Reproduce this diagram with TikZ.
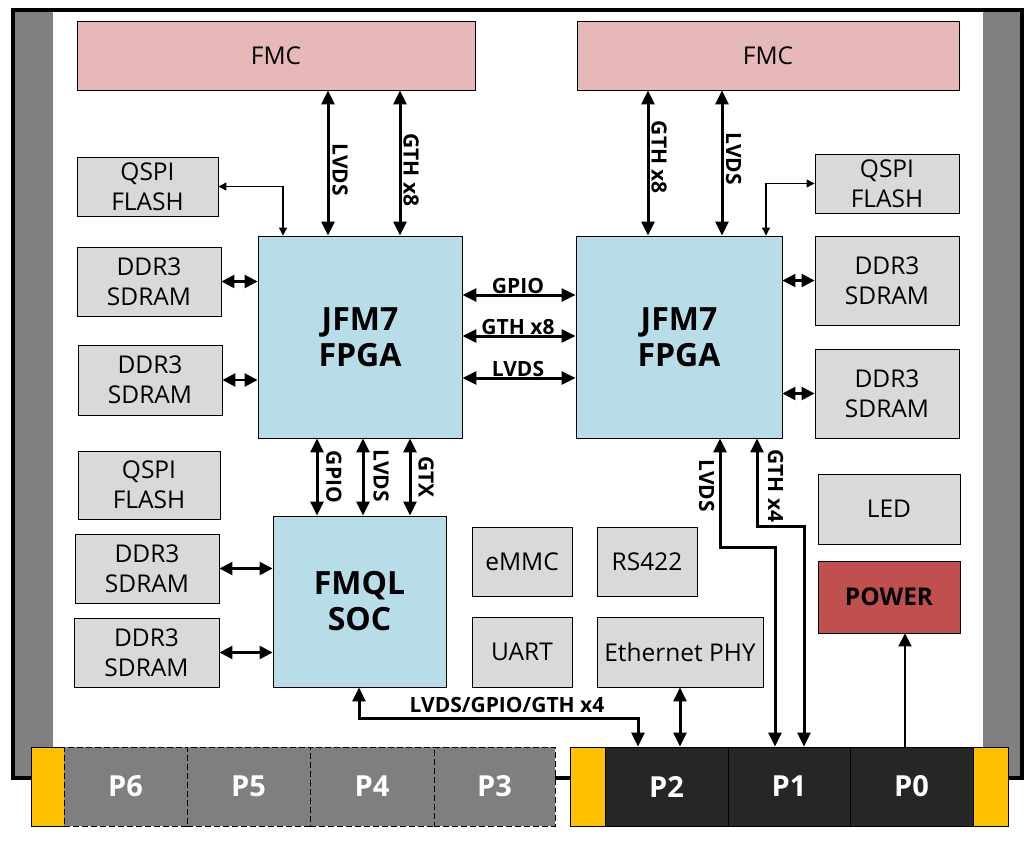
\documentclass[tikz,border=0pt]{standalone}
\usepackage{fontspec}
\setmainfont{Open Sans}
\usetikzlibrary{arrows.meta}
\definecolor{fmcpink}{HTML}{E6B8B7}
\definecolor{chipblue}{HTML}{B7DDE8}
\definecolor{boxgray}{HTML}{D9D9D9}
\definecolor{pwrred}{HTML}{C0504D}
\definecolor{framegray}{HTML}{808080}
\definecolor{conngray}{HTML}{7F7F7F}
\definecolor{conndark}{HTML}{262626}
\definecolor{connyel}{HTML}{FFC000}
\begin{document}
\begin{tikzpicture}[x=1pt,y=-1pt,
  box/.style={draw=black, line width=0.9pt, inner sep=0pt, align=center, font=\fontsize{24.5}{30}\selectfont},
  graybox/.style={box, fill=boxgray},
  fmcbox/.style={box, fill=fmcpink},
  chip/.style={box, fill=chipblue, font=\fontsize{32}{36}\selectfont\bfseries},
  pwrbox/.style={box, fill=pwrred, font=\fontsize{24.5}{30}\selectfont\bfseries},
  slotdash/.style={draw=black, line width=0.9pt, dash pattern=on 6pt off 3pt, fill=conngray, inner sep=0pt, minimum height=79pt, text=white, font=\fontsize{29}{32}\selectfont\bfseries},
  slot/.style={draw=black, line width=0.9pt, fill=conndark, inner sep=0pt, minimum height=79pt, text=white, font=\fontsize{29}{32}\selectfont\bfseries},
  yel/.style={draw=black, line width=0.9pt, fill=connyel, inner sep=0pt, minimum height=79pt},
  bus/.style={line width=3pt, >={Triangle[length=14pt,width=13pt]}, <->},
  shortbus/.style={line width=2.5pt, >={Triangle[length=13pt,width=13pt]}, <->},
  thinbus/.style={line width=1.2pt, >={Triangle[length=8pt,width=8pt]}, <->},
  pwrline/.style={line width=2pt, >={Triangle[length=13pt,width=13pt]}, ->},
  lab/.style={inner sep=0pt, font=\fontsize{21}{23}\selectfont\bfseries},
  vlab/.style={lab, rotate=-90}
]
\useasboundingbox (0,0) rectangle (1036,843);
% board frame
\fill[framegray] (13,10) rectangle (1022,778);
\fill[white] (53,10) rectangle (983,778);
\draw[line width=3.5pt] (13,10) rectangle (1022,778);

% FMC
\node[fmcbox, minimum width=398pt, minimum height=69pt] (fmcL) at (276,55.5) {FMC};
\node[fmcbox, minimum width=382pt, minimum height=69pt] (fmcR) at (768,55.5) {FMC};

% left column
\node[graybox, minimum width=141pt, minimum height=59pt] (qspiL1) at (147.5,186.5) {QSPI\\FLASH};
\node[graybox, minimum width=144pt, minimum height=69pt] (ddrL1) at (149,281.5) {DDR3\\SDRAM};
\node[graybox, minimum width=144pt, minimum height=70pt] (ddrL2) at (150,380) {DDR3\\SDRAM};
\node[graybox, minimum width=142pt, minimum height=68pt] (qspiL2) at (149,485) {QSPI\\FLASH};
\node[graybox, minimum width=144pt, minimum height=69pt] (ddrL3) at (147,568.5) {DDR3\\SDRAM};
\node[graybox, minimum width=145pt, minimum height=69pt] (ddrL4) at (146.5,652.5) {DDR3\\SDRAM};

% chips
\node[chip, minimum width=204pt, minimum height=202pt] (fpgaL) at (360,337) {JFM7\\FPGA};
\node[chip, minimum width=206pt, minimum height=202pt] (fpgaR) at (679,337) {JFM7\\FPGA};
\node[chip, minimum width=173pt, minimum height=171pt] (soc) at (359.5,601.5) {FMQL\\SOC};

% right column
\node[graybox, minimum width=144pt, minimum height=59pt] (qspiR) at (887,183.5) {QSPI\\FLASH};
\node[graybox, minimum width=144pt, minimum height=89pt] (ddrR1) at (887,280.5) {DDR3\\SDRAM};
\node[graybox, minimum width=144pt, minimum height=89pt] (ddrR2) at (887,393.5) {DDR3\\SDRAM};
\node[graybox, minimum width=142pt, minimum height=70pt] (led) at (889,509) {LED};
\node[pwrbox, minimum width=142pt, minimum height=72pt] (power) at (889,597) {POWER};

% peripherals
\node[graybox, minimum width=100pt, minimum height=69pt] (emmc) at (522,561.5) {eMMC};
\node[graybox, minimum width=100pt, minimum height=69pt] (rs422) at (647,561.5) {RS422};
\node[graybox, minimum width=100pt, minimum height=70pt] (uart) at (522,652) {UART};
\node[graybox, minimum width=166pt, minimum height=70pt] (eth) at (680,652) {Ethernet PHY};

% backplane connector
\node[yel, minimum width=33pt] (yl1) at (47.5,786.5) {};
\node[slotdash, minimum width=123pt] (p6) at (125.5,786.5) {P6};
\node[slotdash, minimum width=123pt] (p5) at (248.5,786.5) {P5};
\node[slotdash, minimum width=124pt] (p4) at (372,786.5) {P4};
\node[slotdash, minimum width=121pt] (p3) at (494.5,786.5) {P3};
\node[yel, minimum width=35pt] (yl2) at (587.5,786.5) {};
\node[slot, minimum width=123pt] (p2) at (666.5,786.5) {P2};
\node[slot, minimum width=122pt] (p1) at (789,786.5) {P1};
\node[slot, minimum width=123pt] (p0) at (911.5,786.5) {P0};
\node[yel, minimum width=35pt] (yl3) at (990.5,786.5) {};

% FMC <-> FPGA
\draw[bus] (fmcL.south -| 328,0) -- (fpgaL.north -| 328,0);
\draw[bus] (fmcL.south -| 400,0) -- (fpgaL.north -| 400,0);
\node[vlab] (lvdsFL) at (340,170) {LVDS};
\node[vlab] (gthFL) at (411,170) {GTH x8};
\draw[bus] (fmcR.south -| 648,0) -- (fpgaR.north -| 648,0);
\draw[bus] (fmcR.south -| 722,0) -- (fpgaR.north -| 722,0);
\node[vlab] (gthFR) at (659,157.5) {GTH x8};
\node[vlab] (lvdsFR) at (733.5,159) {LVDS};

% QSPI links
\draw[thinbus] (qspiL1.east) -| (fpgaL.north -| 283,0);
\draw[thinbus] (fpgaR.north -| 766,0) |- (qspiR.west);

% DDR links
\draw[shortbus] (ddrL1.east) -- (ddrL1.east -| fpgaL.west);
\draw[shortbus] (ddrL2.east) -- (ddrL2.east -| fpgaL.west);
\draw[shortbus] (ddrR1.west -| fpgaR.east) -- (ddrR1.west);
\draw[shortbus] (ddrR2.west -| fpgaR.east) -- (ddrR2.west);
\draw[shortbus] (ddrL3.east) -- (ddrL3.east -| soc.west);
\draw[shortbus] (ddrL4.east) -- (ddrL4.east -| soc.west);

% FPGA <-> FPGA
\draw[bus] (fpgaL.east |- 0,295) -- (fpgaR.west |- 0,295);
\draw[bus] (fpgaL.east |- 0,336) -- (fpgaR.west |- 0,336);
\draw[bus] (fpgaL.east |- 0,378) -- (fpgaR.west |- 0,378);
\node[lab] (gpioM) at (518,285.5) {GPIO};
\node[lab] (gthM) at (518,326.5) {GTH x8};
\node[lab] (lvdsM) at (518,369) {LVDS};

% FPGA <-> SOC
\draw[bus] (fpgaL.south -| 317,0) -- (soc.north -| 317,0);
\draw[bus] (fpgaL.south -| 363,0) -- (soc.north -| 363,0);
\draw[bus] (fpgaL.south -| 410,0) -- (soc.north -| 410,0);
\node[vlab] (gpioS) at (334,477) {GPIO};
\node[vlab] (lvdsS) at (381,476) {LVDS};
\node[vlab] (gtxS) at (426,477) {GTX};

% SOC <-> P2
\coordinate (socB) at (359,718);
\coordinate (p2B) at (638,718);
\draw[bus] (soc.south -| socB) -- (socB) -- (p2B) -- (p2.north -| p2B);
\node[lab] (socP2) at (507,705) {LVDS/GPIO/GTH x4};

% Ethernet <-> P2
\draw[bus] (eth.south) -- (eth.south |- p2.north);

% FPGA R <-> P1
\coordinate (lv1) at (720,547);
\coordinate (lv2) at (775,547);
\draw[bus] (fpgaR.south -| lv1) -- (lv1) -- (lv2) -- (p1.north -| lv2);
\coordinate (gt1) at (757,526);
\coordinate (gt2) at (804,526);
\draw[bus] (fpgaR.south -| gt1) -- (gt1) -- (gt2) -- (p1.north -| gt2);
\node[vlab] (lvdsP1) at (706.5,486) {LVDS};
\node[vlab] (gthP1) at (775.5,486) {GTH x4};

% P0 -> POWER
\draw[pwrline] (p0.north -| 905,0) -- (power.south -| 905,0);
\end{tikzpicture}
\end{document}
